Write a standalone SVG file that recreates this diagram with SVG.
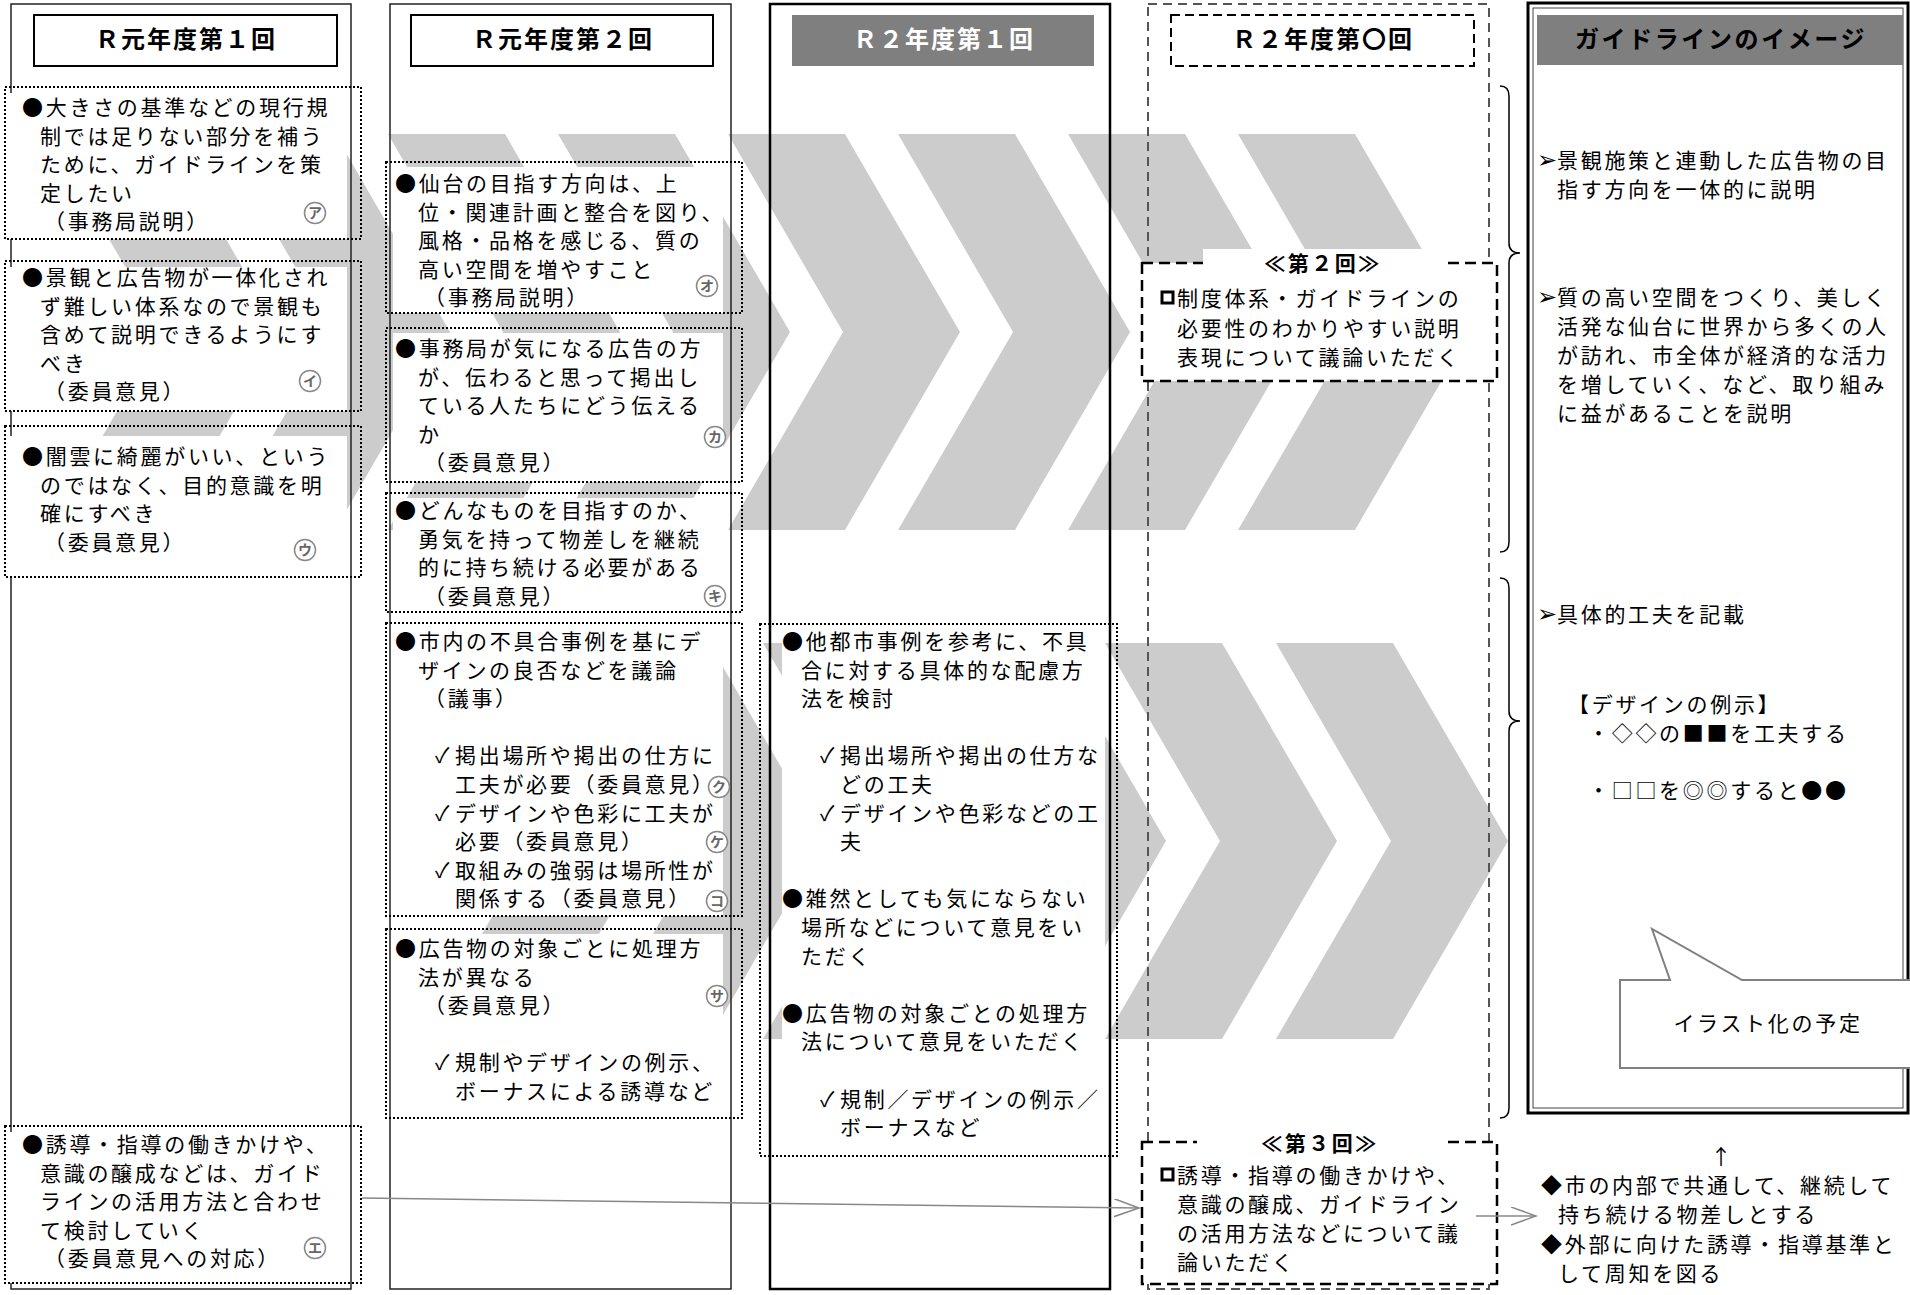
<svg xmlns="http://www.w3.org/2000/svg" width="1910" height="1295" viewBox="0 0 1910 1295">
<defs>
<style>
text{font-family:"Noto Sans CJK JP","Noto Sans CJK SC",sans-serif;fill:#000}
.t{font-size:21px;letter-spacing:2.7px}
.h{font-size:24px;font-weight:700;letter-spacing:2px;text-anchor:middle}
.lb{font-size:21px;font-weight:700;letter-spacing:2.5px;text-anchor:middle}
.mc{fill:#fff;stroke:#888;stroke-width:1.5}
.mt{font-size:14px;font-weight:700;fill:#666;text-anchor:middle}
.chev{fill:#cccccc}
.dot{fill:none;stroke:#000;stroke-width:2;stroke-dasharray:2 2}
.wf{fill:#fff}
.frame{fill:none;stroke:#222;stroke-width:1.5}
.dash{fill:none;stroke:#000;stroke-width:2.5;stroke-dasharray:11 6}
.conn{fill:none;stroke:#888;stroke-width:1.5}
</style>
<marker id="arr" markerUnits="userSpaceOnUse" markerWidth="30" markerHeight="20" refX="25" refY="9" orient="auto">
<path d="M0,0 L25,9 L0,18" fill="none" stroke="#888" stroke-width="1.5"/>
</marker>
</defs>
<rect width="1910" height="1295" fill="#fff"/>

<g id="chevrons">
<polygon class="chev" points="48,134 165,134 280,332 165,530 48,530 163,332"/>
<polygon class="chev" points="218,134 335,134 450,332 335,530 218,530 333,332"/>
<polygon class="chev" points="388,134 505,134 620,332 505,530 388,530 503,332"/>
<polygon class="chev" points="558,134 675,134 790,332 675,530 558,530 673,332"/>
<polygon class="chev" points="728,134 845,134 960,332 845,530 728,530 843,332"/>
<polygon class="chev" points="898,134 1015,134 1130,332 1015,530 898,530 1013,332"/>
<polygon class="chev" points="1068,134 1185,134 1300,332 1185,530 1068,530 1183,332"/>
<polygon class="chev" points="1238,134 1355,134 1470,332 1355,530 1238,530 1353,332"/>
<polygon class="chev" points="421,643 538,643 653,841 538,1039 421,1039 536,841"/>
<polygon class="chev" points="592,643 709,643 824,841 709,1039 592,1039 707,841"/>
<polygon class="chev" points="763,643 880,643 995,841 880,1039 763,1039 878,841"/>
<polygon class="chev" points="934,643 1051,643 1166,841 1051,1039 934,1039 1049,841"/>
<polygon class="chev" points="1105,643 1222,643 1337,841 1222,1039 1105,1039 1220,841"/>
<polygon class="chev" points="1276,643 1393,643 1508,841 1393,1039 1276,1039 1391,841"/>
</g>

<g id="col1">
<rect class="frame" x="11" y="4" width="340" height="1285"/>
<rect x="34" y="15" width="303" height="51" fill="#fff" stroke="#000" stroke-width="2"/>
<text class="h" x="186" y="48">Ｒ元年度第１回</text>
</g>
<g id="col2">
<rect class="frame" x="390" y="4" width="341" height="1285"/>
<rect x="411" y="15" width="302" height="51" fill="#fff" stroke="#000" stroke-width="2"/>
<text class="h" x="563" y="48">Ｒ元年度第２回</text>
</g>
<g id="col3">
<rect x="770" y="4" width="340" height="1285" fill="none" stroke="#000" stroke-width="2.5"/>
<rect x="792" y="15" width="302" height="51" fill="#7f7f7f"/>
<text class="h" x="944" y="48" style="fill:#fff">Ｒ２年度第１回</text>
</g>
<g id="col4">
<rect x="1148" y="4" width="341" height="1285" fill="none" stroke="#555" stroke-width="2" stroke-dasharray="9 6"/>
<rect x="1171" y="15" width="303" height="51" fill="#fff" stroke="#000" stroke-width="2" stroke-dasharray="9 5"/>
<text class="h" x="1323" y="48">Ｒ２年度第〇回</text>
</g>
<g id="col5">
<rect x="1528" y="3" width="380" height="1110" fill="#fff" stroke="#000" stroke-width="3"/>
<rect x="1533" y="8" width="370" height="1100" fill="none" stroke="#444" stroke-width="1"/>
<rect x="1537" y="15" width="366" height="50" fill="#7f7f7f"/>
<text class="h" x="1721" y="48" style="letter-spacing:2.6px">ガイドラインのイメージ</text>
<text class="t"><tspan x="1537" y="168" style="font-size:24px">➢</tspan><tspan x="1557" y="168">景観施策と連動した広告物の目</tspan><tspan x="1557" y="197">指す方向を一体的に説明</tspan></text>
<text class="t"><tspan x="1537" y="305" style="font-size:24px">➢</tspan><tspan x="1557" y="305">質の高い空間をつくり、美しく</tspan><tspan x="1557" y="334">活発な仙台に世界から多くの人</tspan><tspan x="1557" y="363">が訪れ、市全体が経済的な活力</tspan><tspan x="1557" y="392">を増していく、など、取り組み</tspan><tspan x="1557" y="421">に益があることを説明</tspan></text>
<text class="t"><tspan x="1537" y="622" style="font-size:24px">➢</tspan><tspan x="1557" y="622">具体的工夫を記載</tspan></text>
<text class="t" x="1568" y="712">【デザインの例示】</text>
<text class="t" x="1588" y="741">・◇◇の■■を工夫する</text>
<text class="t" x="1588" y="798">・□□を◎◎すると●●</text>
</g>
<g id="callout">
<polygon points="1620,980 1670,980 1652,929 1742,980 1915,980 1915,1068 1620,1068" fill="#fff" stroke="#808080" stroke-width="2"/>
<text class="t" x="1768" y="1031" text-anchor="middle">イラスト化の予定</text>
</g>

<g id="node-a">
<rect class="wf" x="6" y="93" width="341" height="146"/>
<rect class="dot" x="5" y="87" width="356" height="152"/>
<text class="t"><tspan x="22" y="115">●大きさの基準などの現行規</tspan><tspan x="40" y="143.6">制では足りない部分を補う</tspan><tspan x="40" y="172.2">ために、ガイドラインを策</tspan><tspan x="40" y="200.8">定したい</tspan><tspan x="44" y="229.4">（事務局説明）</tspan></text>
<circle class="mc" cx="315" cy="213" r="10.5"/><text class="mt" x="315" y="218">ア</text>
</g>
<g id="node-i">
<rect class="wf" x="6" y="267" width="341" height="144"/>
<rect class="dot" x="5" y="261" width="356" height="150"/>
<text class="t"><tspan x="22" y="285">●景観と広告物が一体化され</tspan><tspan x="40" y="313.6">ず難しい体系なので景観も</tspan><tspan x="40" y="342.2">含めて説明できるようにす</tspan><tspan x="40" y="370.8">べき</tspan><tspan x="44" y="399.4">（委員意見）</tspan></text>
<circle class="mc" cx="310" cy="381" r="10.5"/><text class="mt" x="310" y="386">イ</text>
</g>
<g id="node-u">
<rect class="wf" x="6" y="436" width="341" height="141"/>
<rect class="dot" x="5" y="426" width="356" height="151"/>
<text class="t"><tspan x="22" y="464">●闇雲に綺麗がいい、という</tspan><tspan x="40" y="492.6">のではなく、目的意識を明</tspan><tspan x="40" y="521.2">確にすべき</tspan><tspan x="44" y="549.8">（委員意見）</tspan></text>
<circle class="mc" cx="305" cy="550" r="10.5"/><text class="mt" x="305" y="555">ウ</text>
</g>
<g id="node-e">
<rect class="wf" x="6" y="1132" width="341" height="151"/>
<rect class="dot" x="5" y="1126" width="356" height="157"/>
<text class="t"><tspan x="22" y="1152">●誘導・指導の働きかけや、</tspan><tspan x="40" y="1180.6">意識の醸成などは、ガイド</tspan><tspan x="40" y="1209.2">ラインの活用方法と合わせ</tspan><tspan x="40" y="1237.8">て検討していく</tspan><tspan x="44" y="1266.4">（委員意見への対応）</tspan></text>
<circle class="mc" cx="315" cy="1248" r="10.5"/><text class="mt" x="315" y="1253">エ</text>
</g>

<g id="node-o">
<rect class="wf" x="393" y="167" width="330" height="146"/>
<rect class="dot" x="386" y="162" width="356" height="151"/>
<text class="t"><tspan x="395" y="191">●仙台の目指す方向は、上</tspan><tspan x="418" y="219.6">位・関連計画と整合を図り、</tspan><tspan x="418" y="248.2">風格・品格を感じる、質の</tspan><tspan x="418" y="276.8">高い空間を増やすこと</tspan><tspan x="424" y="305.4">（事務局説明）</tspan></text>
<circle class="mc" cx="707" cy="286" r="10.5"/><text class="mt" x="707" y="291">オ</text>
</g>
<g id="node-ka">
<rect class="wf" x="393" y="333" width="330" height="149"/>
<rect class="dot" x="386" y="328" width="356" height="154"/>
<text class="t"><tspan x="395" y="356">●事務局が気になる広告の方</tspan><tspan x="418" y="384.6">が、伝わると思って掲出し</tspan><tspan x="418" y="413.2">ている人たちにどう伝える</tspan><tspan x="418" y="441.8">か</tspan><tspan x="424" y="470.4">（委員意見）</tspan></text>
<circle class="mc" cx="715" cy="437" r="10.5"/><text class="mt" x="715" y="442">カ</text>
</g>
<g id="node-ki">
<rect class="wf" x="393" y="498" width="330" height="114"/>
<rect class="dot" x="386" y="493" width="356" height="119"/>
<text class="t"><tspan x="395" y="518">●どんなものを目指すのか、</tspan><tspan x="418" y="546.6">勇気を持って物差しを継続</tspan><tspan x="418" y="575.2">的に持ち続ける必要がある</tspan><tspan x="424" y="603.8">（委員意見）</tspan></text>
<circle class="mc" cx="715" cy="596" r="10.5"/><text class="mt" x="715" y="601">キ</text>
</g>
<g id="node-ku">
<rect class="wf" x="393" y="628" width="330" height="288"/>
<rect class="dot" x="386" y="623" width="356" height="293"/>
<text class="t"><tspan x="395" y="649">●市内の不具合事例を基にデ</tspan><tspan x="418" y="677.6">ザインの良否などを議論</tspan><tspan x="424" y="706.2">（議事）</tspan><tspan x="435" y="763.4">✓</tspan><tspan x="455" y="763.4">掲出場所や掲出の仕方に</tspan><tspan x="455" y="792">工夫が必要（委員意見）</tspan><tspan x="435" y="820.6">✓</tspan><tspan x="455" y="820.6">デザインや色彩に工夫が</tspan><tspan x="455" y="849.2">必要（委員意見）</tspan><tspan x="435" y="877.8">✓</tspan><tspan x="455" y="877.8">取組みの強弱は場所性が</tspan><tspan x="455" y="906.4">関係する（委員意見）</tspan></text>
<circle class="mc" cx="719" cy="787" r="10.5"/><text class="mt" x="719" y="792">ク</text>
<circle class="mc" cx="717" cy="842" r="10.5"/><text class="mt" x="717" y="847">ケ</text>
<circle class="mc" cx="717" cy="901" r="10.5"/><text class="mt" x="717" y="906">コ</text>
</g>
<g id="node-sa">
<rect class="wf" x="393" y="934" width="330" height="184"/>
<rect class="dot" x="386" y="929" width="356" height="189"/>
<text class="t"><tspan x="395" y="956">●広告物の対象ごとに処理方</tspan><tspan x="418" y="984.6">法が異なる</tspan><tspan x="424" y="1013.2">（委員意見）</tspan><tspan x="435" y="1070.4">✓</tspan><tspan x="455" y="1070.4">規制やデザインの例示、</tspan><tspan x="455" y="1099">ボーナスによる誘導など</tspan></text>
<circle class="mc" cx="717" cy="996" r="10.5"/><text class="mt" x="717" y="1001">サ</text>
</g>

<g id="node-r2-1">
<rect class="wf" x="782" y="629" width="323" height="527"/>
<rect class="dot" x="760" y="624" width="357" height="532"/>
<text class="t"><tspan x="782" y="649">●他都市事例を参考に、不具</tspan><tspan x="801" y="677.6">合に対する具体的な配慮方</tspan><tspan x="801" y="706.2">法を検討</tspan><tspan x="820" y="763.4">✓</tspan><tspan x="840" y="763.4">掲出場所や掲出の仕方な</tspan><tspan x="840" y="792">どの工夫</tspan><tspan x="820" y="820.6">✓</tspan><tspan x="840" y="820.6">デザインや色彩などの工</tspan><tspan x="840" y="849.2">夫</tspan><tspan x="782" y="906.4">●雑然としても気にならない</tspan><tspan x="801" y="935">場所などについて意見をい</tspan><tspan x="801" y="963.6">ただく</tspan><tspan x="782" y="1020.8">●広告物の対象ごとの処理方</tspan><tspan x="801" y="1049.4">法について意見をいただく</tspan><tspan x="820" y="1106.6">✓</tspan><tspan x="840" y="1106.6">規制／デザインの例示／</tspan><tspan x="840" y="1135.2">ボーナスなど</tspan></text>
</g>

<g id="node-r2-2">
<rect class="wf" x="1142" y="263" width="355" height="118"/>
<rect class="dash" x="1142" y="263" width="355" height="118"/>
<rect class="wf" x="1203" y="249" width="242" height="28"/>
<text class="lb" x="1323" y="271">≪第２回≫</text>
<rect x="1162" y="292" width="11" height="11" fill="none" stroke="#000" stroke-width="3"/>
<text class="t"><tspan x="1177" y="306">制度体系・ガイドラインの</tspan><tspan x="1177" y="335.5">必要性のわかりやすい説明</tspan><tspan x="1177" y="365">表現について議論いただく</tspan></text>
</g>
<g id="node-r2-3">
<rect class="wf" x="1142" y="1142" width="355" height="142"/>
<rect class="dash" x="1142" y="1142" width="355" height="142"/>
<rect class="wf" x="1197" y="1129" width="246" height="27"/>
<text class="lb" x="1320" y="1151">≪第３回≫</text>
<rect x="1162" y="1169" width="11" height="11" fill="none" stroke="#000" stroke-width="3"/>
<text class="t"><tspan x="1177" y="1183">誘導・指導の働きかけや、</tspan><tspan x="1177" y="1212">意識の醸成、ガイドライン</tspan><tspan x="1177" y="1241">の活用方法などについて議</tspan><tspan x="1177" y="1270">論いただく</tspan></text>
</g>

<g id="braces">
<path d="M1500,86 Q1509,86 1509,96 L1509,243 Q1509,253 1520,253 Q1509,253 1509,263 L1509,542 Q1509,552 1500,552" fill="none" stroke="#000" stroke-width="1.5"/>
<path d="M1500,578 Q1509,578 1509,588 L1509,711 Q1509,721 1520,721 Q1509,721 1509,731 L1509,1108 Q1509,1118 1500,1118" fill="none" stroke="#000" stroke-width="1.5"/>
</g>

<g id="note">
<text class="t" x="1721" y="1164" text-anchor="middle" style="letter-spacing:0">↑</text>
<text class="t"><tspan x="1541" y="1193">◆市の内部で共通して、継続して</tspan><tspan x="1558" y="1222">持ち続ける物差しとする</tspan><tspan x="1541" y="1252">◆外部に向けた誘導・指導基準と</tspan><tspan x="1558" y="1281">して周知を図る</tspan></text>
</g>

<g id="connectors">
<line class="conn" x1="362" y1="1198" x2="1139" y2="1208" marker-end="url(#arr)"/>
<line class="conn" x1="1476" y1="1216" x2="1536" y2="1216" marker-end="url(#arr)"/>
</g>
</svg>
